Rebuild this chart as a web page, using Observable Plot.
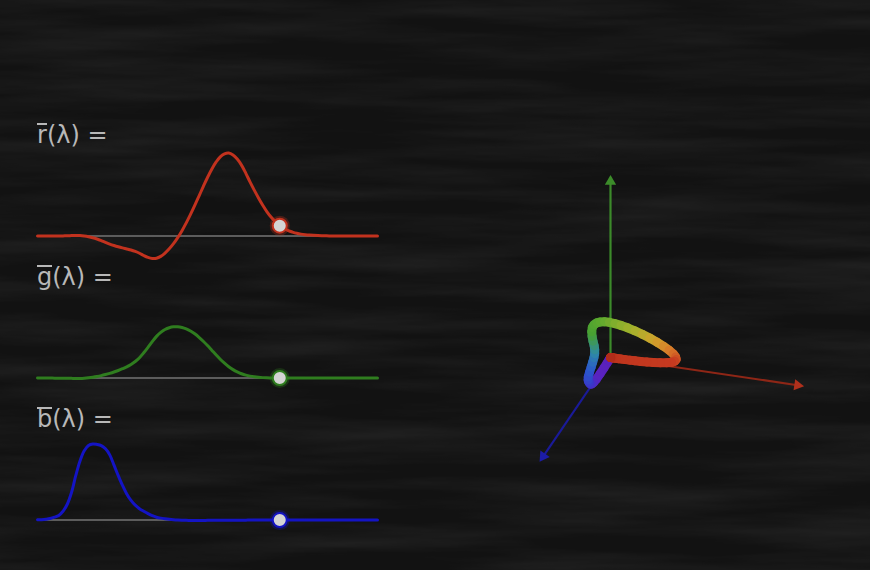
<!DOCTYPE html>
<html>
<head>
<meta charset="utf-8">
<script src="https://cdn.jsdelivr.net/npm/d3@7"></script>
<script src="https://cdn.jsdelivr.net/npm/@observablehq/plot@0.6"></script>
<style>
  html, body { margin: 0; padding: 0; background: #121212; }
  #stage { position: relative; width: 870px; height: 570px; overflow: hidden; background-color: #121212; }
  #stage > .panel { position: absolute; }
  .label { position: absolute; left: 37px; font-family: "DejaVu Sans", sans-serif; font-size: 24px; line-height: 1; color: #b8b8b8; white-space: pre; }
  .label .bar { display: inline-block; line-height: 0.87em; border-top: 2px solid #b8b8b8; }
</style>
</head>
<body>
<div id="stage"></div>
<script>
// ---- Data (colour matching functions r̄ ḡ b̄) ----
const wavelengths = [380,385,390,395,400,405,410,415,420,425,430,435,440,445,450,455,460,465,470,475,480,485,490,495,500,505,510,515,520,525,530,535,540,545,550,555,560,565,570,575,580,585,590,595,600,605,610,615,620,625,630,635,640,645,650,655,660,665,670,675,680,685,690,695,700,710,720,730,740,750,760,770,780];
const rBar = [0.00003,0.00005,0.0001,0.00017,0.0003,0.00047,0.00084,0.00139,0.00211,0.00266,0.00218,0.00036,-0.00261,-0.00673,-0.01213,-0.01874,-0.02608,-0.03324,-0.03933,-0.04471,-0.04939,-0.05364,-0.05814,-0.06414,-0.07173,-0.0812,-0.08901,-0.09356,-0.09264,-0.08473,-0.07101,-0.05316,-0.03152,-0.00613,0.02279,0.05514,0.0906,0.1284,0.16768,0.20715,0.24526,0.27989,0.30928,0.33184,0.34429,0.34756,0.33971,0.32265,0.29708,0.26348,0.22677,0.19233,0.15968,0.12905,0.10167,0.07857,0.05932,0.04366,0.03149,0.02294,0.01687,0.01187,0.00819,0.00572,0.0041,0.0021,0.00105,0.00052,0.00025,0.00012,0.00006,0.00003,0];
const gBar = [-0.00001,-0.00002,-0.00004,-0.00007,-0.00014,-0.00022,-0.00041,-0.0007,-0.0011,-0.00143,-0.00119,-0.00021,0.00149,0.00379,0.00678,0.01046,0.01485,0.01977,0.02538,0.03183,0.03914,0.04713,0.05689,0.06948,0.08536,0.10593,0.1286,0.15262,0.17468,0.19113,0.20317,0.21083,0.21466,0.21487,0.21178,0.20588,0.19702,0.18522,0.17087,0.15429,0.1361,0.11686,0.09754,0.07909,0.06246,0.04776,0.03557,0.02583,0.01828,0.01253,0.00833,0.00537,0.00334,0.00199,0.00116,0.00066,0.00037,0.00021,0.00011,0.00006,0.00003,0.00001,0.00001,0,0,0,0,0,0,0,0,0,0];
const bBar = [0.00117,0.00189,0.00359,0.00647,0.01214,0.01969,0.03707,0.06637,0.11541,0.18575,0.24769,0.29012,0.31228,0.3186,0.3167,0.31166,0.29821,0.27295,0.22991,0.18592,0.14494,0.10968,0.08257,0.06246,0.04776,0.03688,0.02698,0.01842,0.01221,0.0083,0.00549,0.0032,0.00146,0.00023,-0.00058,-0.00105,-0.0013,-0.00138,-0.00135,-0.00123,-0.00108,-0.00093,-0.00079,-0.00063,-0.00049,-0.00038,-0.0003,-0.00022,-0.00015,-0.00011,-0.00008,-0.00005,-0.00003,-0.00002,-0.00001,-0.00001,0,0,0,0,0,0,0,0,0,0,0,0,0,0,0,0,0];
const markerWavelength = 665;
const labels = ["r", "g", "b"];
const axisLengths = [0.99, 1.08, 1.15]; // r, g, b axis extents (units)

// ---- Styles ----
const curveColors = ["#c2321e", "#2f7d1f", "#1414c4"];
const axisColors = ["#8e2616", "#3c8a2a", "#1a1a98"];
const headColors = ["#b0301c", "#3c8c2a", "#1c1ca6"];

const stage = document.getElementById("stage");

// textured background (pure styling)
const noise = `<svg xmlns='http://www.w3.org/2000/svg' width='870' height='570'><filter id='n' x='0' y='0' width='100%' height='100%'><feTurbulence type='fractalNoise' baseFrequency='0.004 0.05' numOctaves='4' seed='7'/><feColorMatrix values='0 0 0 0 1  0 0 0 0 1  0 0 0 0 1  0.11 0 0 0 -0.04'/></filter><rect width='100%' height='100%' filter='url(#n)'/></svg>`;
stage.style.backgroundImage = `url("data:image/svg+xml,${encodeURIComponent(noise)}")`;

// ---- Left: three curves ----
const series = [rBar, gBar, bBar];
const pxPerUnit = 239, panelH = 130, hi = 0.4;
const lo = hi - panelH / pxPerUnit;
const baselines = [236, 378, 520];
const mi = wavelengths.indexOf(markerWavelength);

series.forEach((vals, k) => {
  const data = wavelengths.map((w, i) => ({w, v: vals[i]}));
  const plot = Plot.plot({
    width: 400, height: panelH,
    marginLeft: 37, marginRight: 23, marginTop: 0, marginBottom: 0,
    x: {domain: [380, 780], axis: null},
    y: {domain: [lo, hi], axis: null},
    style: {background: "transparent", overflow: "visible"},
    marks: [
      Plot.ruleY([0], {stroke: "#5c5c5c", strokeWidth: 2}),
      Plot.line(data, {x: "w", y: "v", stroke: curveColors[k], strokeWidth: 3, curve: "catmull-rom"}),
      Plot.dot([data[mi]], {x: "w", y: "v", r: 10, fill: curveColors[k], fillOpacity: 0.3}),
      Plot.dot([data[mi]], {x: "w", y: "v", r: 7, fill: "#d4d4d4", stroke: curveColors[k], strokeWidth: 2})
    ]
  });
  plot.classList.add("panel");
  plot.style.left = "0px";
  plot.style.top = (baselines[k] - hi * pxPerUnit) + "px";
  stage.appendChild(plot);

  const lab = document.createElement("div");
  lab.className = "label";
  lab.style.top = (baselines[k] - 93 - 20.3) + "px";
  lab.innerHTML = `<span class="bar">${labels[k]}</span>(λ) =`;
  stage.appendChild(lab);
});

// ---- Right: 3D locus projected onto the page ----
const R = [189, -28], G = [0, 163], B = [-58.5, -86];
const proj = (r, g, b) => [r * R[0] + g * G[0] + b * B[0], r * R[1] + g * G[1] + b * B[1]];
const pts = wavelengths.map((w, i) => ({w, p: proj(rBar[i], gBar[i], bBar[i])}));
const segs = pts.slice(1).map((q, i) => ({
  x1: pts[i].p[0], y1: pts[i].p[1], x2: q.p[0], y2: q.p[1], w: (pts[i].w + q.w) / 2
}));
const tubeColor = d3.scaleLinear()
  .domain([380, 430, 455, 475, 495, 515, 540, 565, 580, 595, 615, 780])
  .range(["#5a1cb0", "#5a22c0", "#3a36c8", "#2a58cc", "#2e8aa6", "#46a032", "#5eaa2e", "#a2b22c", "#d0a22c", "#d87428", "#c63a20", "#b02c1a"])
  .interpolate(d3.interpolateRgb);

const dirs = [R, G, B];
const axes = dirs.map((d, k) => {
  const x2 = d[0] * axisLengths[k], y2 = d[1] * axisLengths[k];
  return {x1: 0, y1: 0, x2, y2, k, angle: Math.atan2(x2, y2) * 180 / Math.PI};
});

const right = Plot.plot({
  width: 330, height: 330,
  margin: 0,
  x: {domain: [-110, 220], axis: null},
  y: {domain: [-123, 207], axis: null},
  color: {type: "identity"},
  style: {background: "transparent", overflow: "visible"},
  marks: [
    Plot.link(axes, {x1: "x1", y1: "y1", x2: "x2", y2: "y2", stroke: d => axisColors[d.k], strokeWidth: 2.2}),
    Plot.dot(axes, {x: "x2", y: "y2", symbol: "triangle", r: 4.2, fill: d => headColors[d.k], rotate: "angle"}),
    Plot.link(segs, {x1: "x1", y1: "y1", x2: "x2", y2: "y2", stroke: d => tubeColor(d.w), strokeWidth: 9, strokeLinecap: "round"})
  ]
});
right.classList.add("panel");
right.style.left = "500px";
right.style.top = "150px";
stage.appendChild(right);
</script>
</body>
</html>
